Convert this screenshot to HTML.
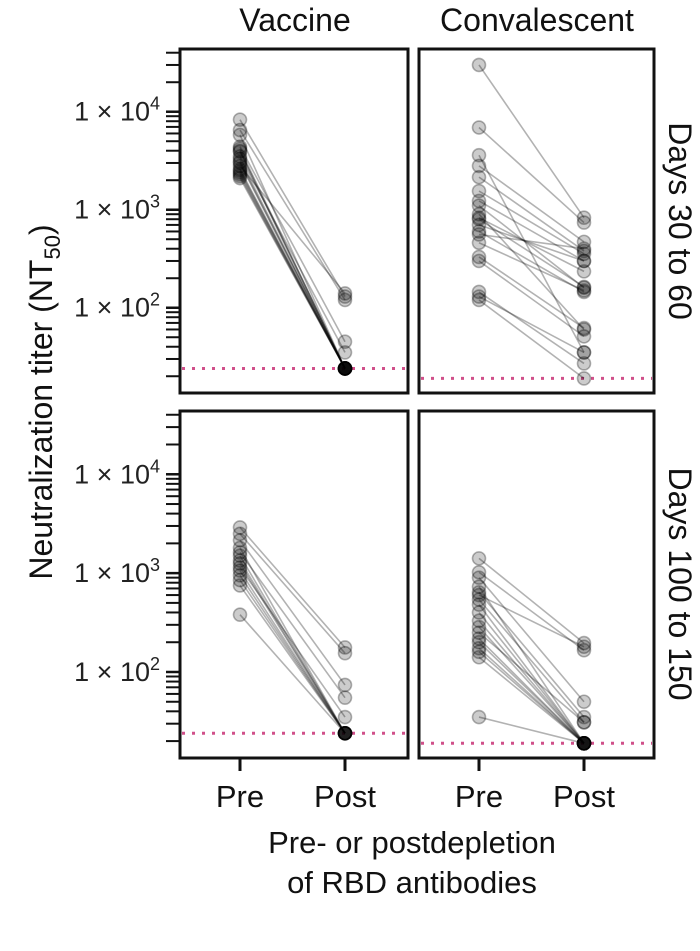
<!DOCTYPE html>
<html><head><meta charset="utf-8"><style>
body{margin:0;background:#fff;}
svg{display:block;font-family:"Liberation Sans",sans-serif;}
</style></head><body>
<svg id="chart" width="700" height="951" viewBox="0 0 700 951" xmlns="http://www.w3.org/2000/svg"></svg>
<script>
// ---- data ----
const groups = ["Pre", "Post"];
const vacTopPre  = [8300,6500,5800,4400,4200,3900,3500,3300,3100,2800,2600,2500,2400,2200,2100,4000,3000,2300];
const vacTopPost = [130,120,24,45,24,24,35,24,24,140,24,24,24,24,24,24,24,24];
const convTopPre  = [30000,6900,3600,2800,2150,1550,1230,830,800,600,560,460,330,300,145,130,120,700,900,1100];
const convTopPost = [830,740,35,470,380,355,300,235,163,145,400,150,62,51,27,35,19,300,60,160];
const vacBotPre  = [2900,2500,2150,1800,1620,1340,1140,1060,850,750,380,1500,1250,950];
const vacBotPost = [177,155,74,24,55,24,35,24,24,24,24,24,24,24];
const convBotPre  = [1410,1020,900,730,640,540,400,285,218,174,141,35,600,480,330,250,200,160];
const convBotPost = [196,166,50,19,35,31,19,19,19,19,19,19,180,19,19,31,19,19];
const lodVac = 24, lodConv = 19;
const tickVals = [100, 1000, 10000];
const tickExp = ["2","3","4"];

const NS="http://www.w3.org/2000/svg";
const svg=document.getElementById('chart');
function mk(tag,attrs,parent){const e=document.createElementNS(NS,tag);for(const k in attrs)e.setAttribute(k,attrs[k]);(parent||svg).appendChild(e);return e;}
const logMin=1.13, logMax=4.64;
function yScale(p,v){return p.y1-(Math.log10(v)-logMin)/(logMax-logMin)*(p.y1-p.y0);}
const panels=[
 {name:"vaccine-days-30-60",x0:180,x1:408,y0:49,y1:393,pre:vacTopPre,post:vacTopPost,lod:lodVac},
 {name:"convalescent-days-30-60",x0:419,x1:654,y0:49,y1:393,pre:convTopPre,post:convTopPost,lod:lodConv},
 {name:"vaccine-days-100-150",x0:180,x1:408,y0:411,y1:758,pre:vacBotPre,post:vacBotPost,lod:lodVac},
 {name:"convalescent-days-100-150",x0:419,x1:654,y0:411,y1:758,pre:convBotPre,post:convBotPost,lod:lodConv}
];
function xScale(p,i){const off=[60,165];return p.x0+off[i];}
panels.forEach((p,pi)=>{
  const g=mk('g',{});
  
  
  const ly=yScale(p,p.lod);
  const lod=mk('line',{x1:p.x0+2,x2:p.x1-2,y1:ly,y2:ly,stroke:'#d0508a','stroke-width':3,'stroke-dasharray':'3,7'},g);
  
  
  p.pre.forEach((v,i)=>{
    const ln=mk('line',{x1:xScale(p,0),y1:yScale(p,v),x2:xScale(p,1),y2:yScale(p,p.post[i]),stroke:'rgba(0,0,0,0.3)','stroke-width':1.6},g);
    
    
  });
  p.pre.forEach((v,i)=>{
    [[0,v],[1,p.post[i]]].forEach(([gi,val])=>{
      const c=mk('circle',{cx:xScale(p,gi),cy:yScale(p,val),r:6.5,fill:'rgba(0,0,0,0.2)',stroke:'rgba(0,0,0,0.3)','stroke-width':1.6},g);
      
      
    });
  });
  const fr=mk('rect',{x:p.x0,y:p.y0,width:p.x1-p.x0,height:p.y1-p.y0,fill:'none',stroke:'#111','stroke-width':3},g);
  
  
  if(pi%2===0){
    for(let e=1;e<=4;e++)for(let m=1;m<=9;m++){
      const v=m*Math.pow(10,e);const lv=Math.log10(v);
      if(lv<logMin||lv>logMax)continue;
      const y=yScale(p,v);
      const t=mk('line',{x1:166,x2:p.x0,y1:y,y2:y,stroke:'#111','stroke-width':m===1?2.5:2});
      
      
    }
    tickVals.forEach((v,i)=>{
      const t=mk('text',{x:160,y:yScale(p,v)+9,'text-anchor':'end','font-size':27,fill:'#222'});
      
      
      t.innerHTML='1 × 10<tspan dy="-11" font-size="18">'+tickExp[i]+'</tspan>';
    });
  }
  if(pi>=2){
    groups.forEach((gname,gi)=>{
      const x=xScale(p,gi);
      const t=mk('line',{x1:x,x2:x,y1:p.y1,y2:p.y1+13,stroke:'#111','stroke-width':3});
      
      
      const l=mk('text',{x:x,y:807,'text-anchor':'middle','font-size':31,fill:'#111'});
      
      
      l.textContent=gname;
    });
  }
});
function txt(name,s,attrs){const t=mk('text',attrs);t.textContent=s;return t;}
txt('column-title-vaccine','Vaccine',{x:295,y:31,'text-anchor':'middle','font-size':32,fill:'#111'});
txt('column-title-convalescent','Convalescent',{x:537,y:31,'text-anchor':'middle','font-size':32,fill:'#111'});
txt('row-title-days-30-60','Days 30 to 60',{x:0,y:0,'text-anchor':'middle','font-size':32,fill:'#111',transform:'translate(669,221) rotate(90)'});
txt('row-title-days-100-150','Days 100 to 150',{x:0,y:0,'text-anchor':'middle','font-size':32,fill:'#111',transform:'translate(669,584) rotate(90)'});
const yt=mk('text',{x:0,y:0,'text-anchor':'middle','font-size':32,fill:'#111',transform:'translate(52,402) rotate(-90)'});


yt.innerHTML='Neutralization titer (NT<tspan dy="8" font-size="22">50</tspan><tspan dy="-8">)</tspan>';
txt('x-axis-title-line1','Pre- or postdepletion',{x:412,y:853,'text-anchor':'middle','font-size':31,fill:'#111'});
txt('x-axis-title-line2','of RBD antibodies',{x:412,y:893,'text-anchor':'middle','font-size':31,fill:'#111'});
</script>
</body></html>
